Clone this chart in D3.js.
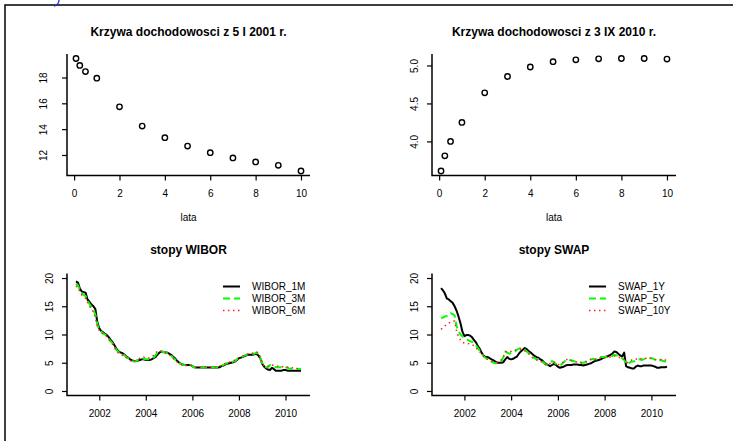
<!DOCTYPE html>
<html>
<head>
<meta charset="utf-8">
<script src="https://cdn.jsdelivr.net/npm/d3@7"></script>
<style>
  body { margin: 0; background: #fff; }
  svg { display: block; font-family: "Liberation Sans", Arial, Helvetica, sans-serif; }
</style>
</head>
<body>
<svg id="chart" width="733" height="441"></svg>
<script>
// yield curves (lata -> %)
const maturities = [0.083, 0.25, 0.5, 1, 2, 3, 4, 5, 6, 7, 8, 9, 10];
const yields2001 = [19.47, 18.93, 18.46, 17.95, 15.73, 14.24, 13.34, 12.69, 12.18, 11.77, 11.46, 11.2, 10.76];
const yields2010 = [3.61, 3.81, 4.0, 4.25, 4.64, 4.855, 4.98, 5.05, 5.075, 5.088, 5.092, 5.092, 5.084];

// monthly rates, Jan 2001 .. Sep 2010
const months = d3.timeMonth.range(new Date(2001, 0, 1), new Date(2010, 9, 1));

const wibor1M = [
  19.4, 19.2, 18.2, 17.6, 17.5, 17.4, 16.2, 15.8, 15.3, 15.0, 14.5, 12.2,
  11.1, 10.6, 10.4, 10.1, 9.9, 9.5, 9.0, 8.6, 8.0, 7.4, 7.0, 6.8,
  6.7, 6.4, 6.1, 5.9, 5.6, 5.4, 5.3, 5.3, 5.4, 5.5, 5.6, 5.6,
  5.5, 5.5, 5.5, 5.6, 5.8, 6.0, 6.4, 6.8, 7.0, 6.9, 6.8, 6.8,
  6.6, 6.4, 6.1, 5.8, 5.4, 5.1, 4.8, 4.7, 4.6, 4.6, 4.6, 4.6,
  4.4, 4.2, 4.15, 4.15, 4.15, 4.15, 4.15, 4.15, 4.15, 4.15, 4.15, 4.15,
  4.15, 4.15, 4.2, 4.4, 4.5, 4.7, 4.8, 4.9, 5.0, 5.1, 5.2, 5.5,
  5.8, 5.9, 6.0, 6.2, 6.3, 6.4, 6.4, 6.4, 6.5, 6.6, 6.3, 5.8,
  4.8, 4.3, 4.0, 3.8, 3.7, 4.1, 3.9, 3.6, 3.6, 3.6, 3.6, 3.7,
  3.7, 3.6, 3.6, 3.6, 3.6, 3.6, 3.6, 3.6, 3.6
];
const wibor3M = [
  19.0, 18.7, 17.9, 17.3, 17.0, 16.8, 16.0, 15.4, 14.8, 14.4, 13.5, 11.8,
  10.9, 10.5, 10.2, 10.0, 9.7, 9.2, 8.8, 8.4, 7.8, 7.2, 6.9, 6.7,
  6.5, 6.3, 6.0, 5.8, 5.5, 5.3, 5.2, 5.3, 5.5, 5.6, 5.7, 5.7,
  5.6, 5.6, 5.6, 5.7, 5.9, 6.3, 6.8, 7.0, 7.0, 6.9, 6.8, 6.7,
  6.6, 6.3, 5.9, 5.6, 5.3, 5.0, 4.8, 4.7, 4.6, 4.5, 4.6, 4.6,
  4.4, 4.2, 4.15, 4.15, 4.15, 4.15, 4.2, 4.2, 4.2, 4.2, 4.2, 4.2,
  4.2, 4.2, 4.3, 4.4, 4.6, 4.8, 4.9, 5.0, 5.1, 5.2, 5.3, 5.6,
  5.8, 5.9, 6.1, 6.3, 6.4, 6.5, 6.5, 6.6, 6.6, 6.8, 6.6, 5.9,
  4.9, 4.4, 4.2, 4.2, 4.6, 4.5, 4.3, 4.2, 4.2, 4.2, 4.2, 4.2,
  4.2, 4.1, 4.0, 3.9, 3.9, 3.9, 3.9, 3.9, 3.9
];
const wibor6M = [
  18.6, 18.3, 17.6, 17.0, 16.6, 16.4, 15.7, 15.0, 14.5, 14.0, 13.0, 11.5,
  10.7, 10.3, 10.1, 9.9, 9.6, 9.1, 8.7, 8.2, 7.6, 7.0, 6.7, 6.5,
  6.3, 6.1, 5.9, 5.7, 5.4, 5.2, 5.2, 5.4, 5.6, 5.8, 6.0, 6.0,
  5.8, 5.8, 5.9, 6.1, 6.3, 6.6, 7.1, 7.1, 7.0, 6.9, 6.8, 6.6,
  6.5, 6.1, 5.8, 5.5, 5.2, 4.9, 4.7, 4.6, 4.5, 4.5, 4.6, 4.6,
  4.4, 4.2, 4.2, 4.2, 4.2, 4.3, 4.3, 4.3, 4.3, 4.3, 4.3, 4.3,
  4.3, 4.3, 4.4, 4.5, 4.7, 4.9, 5.0, 5.1, 5.2, 5.3, 5.5, 5.8,
  5.9, 6.0, 6.2, 6.4, 6.5, 6.6, 6.7, 6.7, 6.7, 6.9, 6.8, 6.0,
  4.9, 4.4, 4.3, 4.4, 4.5, 4.6, 4.5, 4.4, 4.4, 4.3, 4.3, 4.3,
  4.3, 4.2, 4.1, 4.1, 4.1, 4.1, 4.0, 4.0, 4.0
];

const swap1Y = [
  18.2, 17.8, 17.3, 16.4, 16.2, 15.9, 15.6, 15.0, 14.2, 13.2, 12.0, 10.5,
  9.7, 9.9, 9.9, 9.8, 9.5, 9.0, 8.6, 7.9, 7.4, 6.7, 6.2, 6.0,
  6.0, 5.8, 5.6, 5.4, 5.2, 5.0, 5.0, 5.0, 5.1, 5.6, 6.0, 5.7,
  5.6, 5.7, 5.9, 6.1, 6.6, 7.0, 7.3, 7.6, 7.4, 7.1, 6.8, 6.5,
  6.2, 6.0, 5.9, 5.6, 5.4, 5.0, 4.8, 4.6, 4.4, 4.6, 4.8, 4.6,
  4.3, 4.1, 4.2, 4.3, 4.5, 4.6, 4.6, 4.6, 4.7, 4.7, 4.7, 4.6,
  4.6, 4.5, 4.6, 4.7, 4.8, 4.9, 5.1, 5.3, 5.4, 5.5, 5.6, 5.8,
  6.0, 6.1, 6.2, 6.4, 6.6, 7.0, 6.9, 6.6, 6.3, 6.1, 6.8, 4.4,
  4.2, 4.1, 4.0, 4.0, 4.3, 4.5, 4.4, 4.4, 4.5, 4.5, 4.5, 4.5,
  4.5, 4.4, 4.3, 4.1, 4.1, 4.2, 4.2, 4.2, 4.3
];
const swap5Y = [
  12.9, 13.0, 13.2, 13.3, 13.5, 13.8, 13.6, 13.4, 11.5, 10.6, 10.0, 9.7,
  9.3, 9.1, 9.0, 8.8, 8.7, 8.4, 8.1, 7.6, 7.1, 6.6, 6.1, 5.8,
  5.6, 5.4, 5.2, 5.0, 4.9, 4.9, 5.0, 5.3, 6.0, 7.0, 6.8, 6.6,
  6.7, 6.8, 7.0, 7.3, 7.5, 7.6, 7.6, 7.3, 7.0, 6.7, 6.4, 6.0,
  5.8, 5.6, 5.6, 5.4, 5.2, 4.9, 4.6, 4.8, 5.0, 5.3, 5.1, 4.8,
  4.6, 4.6, 4.7, 5.1, 5.4, 5.6, 5.5, 5.4, 5.3, 5.2, 5.1, 5.1,
  5.0, 5.0, 5.1, 5.3, 5.4, 5.6, 5.7, 5.6, 5.6, 5.8, 6.0, 6.0,
  6.0, 6.0, 6.1, 6.1, 6.2, 6.4, 6.3, 6.2, 6.0, 5.8, 5.5, 4.8,
  4.8, 5.1, 5.2, 5.2, 5.4, 5.6, 5.6, 5.5, 5.6, 5.7, 5.7, 5.8,
  5.8, 5.7, 5.5, 5.3, 5.3, 5.5, 5.3, 5.2, 5.1
];
const swap10Y = [
  10.9, 11.2, 11.5, 11.8, 12.0, 12.2, 12.3, 12.4, 10.6, 9.6, 9.0, 8.6,
  8.5, 8.5, 8.4, 8.3, 8.2, 8.0, 7.7, 7.3, 6.9, 6.5, 6.1, 5.8,
  5.6, 5.4, 5.3, 5.2, 5.1, 5.1, 5.2, 5.5, 6.0, 6.9, 7.0, 6.9,
  7.0, 7.1, 7.2, 7.4, 7.4, 7.4, 7.3, 7.1, 6.9, 6.6, 6.3, 5.9,
  5.7, 5.5, 5.5, 5.3, 5.1, 4.8, 4.6, 4.7, 4.9, 5.2, 5.1, 4.9,
  4.7, 4.7, 4.8, 5.2, 5.5, 5.6, 5.5, 5.4, 5.3, 5.2, 5.1, 5.1,
  5.0, 5.0, 5.1, 5.3, 5.4, 5.6, 5.7, 5.6, 5.6, 5.7, 5.9, 5.9,
  5.9, 5.9, 6.0, 6.0, 6.0, 6.2, 6.1, 6.0, 5.9, 5.7, 5.6, 5.1,
  5.0, 5.3, 5.5, 5.5, 5.6, 5.8, 5.8, 5.7, 5.8, 5.8, 5.8, 5.8,
  5.8, 5.8, 5.6, 5.5, 5.5, 5.6, 5.5, 5.5, 5.4
];

const maturityTicks = [0, 2, 4, 6, 8, 10];
const yTicks2001 = [12, 14, 16, 18];
const yTicks2010 = [4.0, 4.5, 5.0];
const rateTicks = [0, 5, 10, 15, 20];
const yearTicks = [2002, 2004, 2006, 2008, 2010];

const svg = d3.select("#chart");

// R style: extend the range by 4% on both sides
function rlim(lo, hi) {
  let e = (hi - lo) * 0.04;
  return [lo - e, hi + e];
}

// frame round the figure
svg.append("path")
  .attr("d", "M5,441V5H733")
  .attr("fill", "none")
  .attr("stroke", "#000")
  .attr("stroke-width", 1.5);
svg.append("path")
  .attr("d", "M59,0C59,3 58,5 54,6")
  .attr("fill", "none")
  .attr("stroke", "#2a2ad0")
  .attr("stroke-width", 1.3);

function drawFrame(box, x, y, opts) {
  let g = svg.append("g");

  g.append("text")
    .attr("x", (box.left + box.right) / 2)
    .attr("y", opts.titleY)
    .attr("text-anchor", "middle")
    .style("font-size", "12px")
    .style("font-weight", "bold")
    .text(opts.title);

  g.append("path")
    .attr("d", `M${box.left},${box.top}V${box.bottom}H${box.right}`)
    .attr("fill", "none")
    .attr("stroke", "#000")
    .attr("stroke-width", 1.5);

  let xAxis = g.append("g")
    .attr("transform", `translate(0,${box.bottom})`)
    .call(d3.axisBottom(x)
      .tickValues(opts.xTicks)
      .tickFormat(opts.xFormat)
      .tickSize(5)
      .tickPadding(9));
  xAxis.select(".domain").remove();

  let yAxis = g.append("g")
    .attr("transform", `translate(${box.left},0)`)
    .call(d3.axisLeft(y)
      .tickValues(opts.yTicks)
      .tickFormat(opts.yFormat)
      .tickSize(5));
  yAxis.select(".domain").remove();
  yAxis.selectAll("text")
    .attr("x", null)
    .attr("dy", "0.35em")
    .attr("text-anchor", "middle")
    .attr("transform", `translate(${-opts.labelOffset},0) rotate(-90)`);

  g.selectAll(".tick line").attr("stroke", "#000").attr("stroke-width", 1.2);
  g.selectAll(".tick text")
    .attr("fill", "#000")
    .style("font-family", "'Liberation Sans', Arial, sans-serif")
    .style("font-size", "10px");

  if (opts.xlabel) {
    g.append("text")
      .attr("x", (box.left + box.right) / 2)
      .attr("y", opts.xlabelY)
      .attr("text-anchor", "middle")
      .style("font-size", "10px")
      .text(opts.xlabel);
  }
  return g;
}

function yieldPanel(box, values, yTickVals, title) {
  let x = d3.scaleLinear(rlim(d3.min(maturities), d3.max(maturities)), [box.left, box.right]);
  let y = d3.scaleLinear(rlim(d3.min(values), d3.max(values)), [box.bottom, box.top]);

  let g = drawFrame(box, x, y, {
    title: title, titleY: 36,
    xTicks: maturityTicks, xFormat: d3.format("d"),
    yTicks: yTickVals, yFormat: title.includes("2010") ? d3.format(".1f") : d3.format("d"),
    labelOffset: title.includes("2010") ? 18 : 24,
    xlabel: "lata", xlabelY: 221
  });

  g.selectAll(".pt")
    .data(maturities)
    .enter().append("circle")
    .attr("class", "pt")
    .attr("cx", d => x(d))
    .attr("cy", (d, i) => y(values[i]))
    .attr("r", 2.7)
    .attr("fill", "none")
    .attr("stroke", "#000")
    .attr("stroke-width", 1.4);
}

const seriesStyle = [
  {color: "#000", width: 2, dash: null},
  {color: "#00ff00", width: 2, dash: "7,4"},
  {color: "#ff2020", width: 1.5, dash: "1.5,3.5"}
];

function ratePanel(box, series, names, title) {
  let x = d3.scaleTime()
    .domain(rlim(+months[0], +months[months.length - 1]).map(d => new Date(d)))
    .range([box.left, box.right]);
  let y = d3.scaleLinear(rlim(0, 20), [box.bottom, box.top]);

  let g = drawFrame(box, x, y, {
    title: title, titleY: 254,
    xTicks: yearTicks.map(yr => new Date(yr, 0, 1)), xFormat: d3.timeFormat("%Y"),
    yTicks: rateTicks, yFormat: d3.format("d"),
    labelOffset: 18
  });

  let line = d3.line()
    .x((d, i) => x(months[i]))
    .y(d => y(d));

  series.forEach((s, k) => {
    let st = seriesStyle[k];
    g.append("path")
      .datum(s)
      .attr("d", line)
      .attr("fill", "none")
      .attr("stroke", st.color)
      .attr("stroke-width", st.width)
      .attr("stroke-dasharray", st.dash)
      .attr("stroke-linejoin", "round");
  });

  // legend, no box
  let leg = g.append("g")
    .attr("transform", `translate(${box.right - 87},${box.top + 13})`);
  names.forEach((n, k) => {
    let st = seriesStyle[k];
    leg.append("line")
      .attr("x1", 0).attr("x2", 17)
      .attr("y1", k * 12).attr("y2", k * 12)
      .attr("stroke", st.color)
      .attr("stroke-width", st.width)
      .attr("stroke-dasharray", st.dash);
    leg.append("text")
      .attr("x", 29)
      .attr("y", k * 12)
      .attr("dy", "0.35em")
      .style("font-size", "10px")
      .text(n);
  });
}

yieldPanel({left: 67, right: 310, top: 54, bottom: 175.5}, yields2001, yTicks2001, "Krzywa dochodowosci z 5 I 2001 r.");
yieldPanel({left: 432, right: 676, top: 54, bottom: 175.5}, yields2010, yTicks2010, "Krzywa dochodowosci z 3 IX 2010 r.");
ratePanel({left: 67, right: 310, top: 273.5, bottom: 395.5}, [wibor1M, wibor3M, wibor6M], ["WIBOR_1M", "WIBOR_3M", "WIBOR_6M"], "stopy WIBOR");
ratePanel({left: 432, right: 676, top: 273.5, bottom: 395.5}, [swap1Y, swap5Y, swap10Y], ["SWAP_1Y", "SWAP_5Y", "SWAP_10Y"], "stopy SWAP");
</script>
</body>
</html>
